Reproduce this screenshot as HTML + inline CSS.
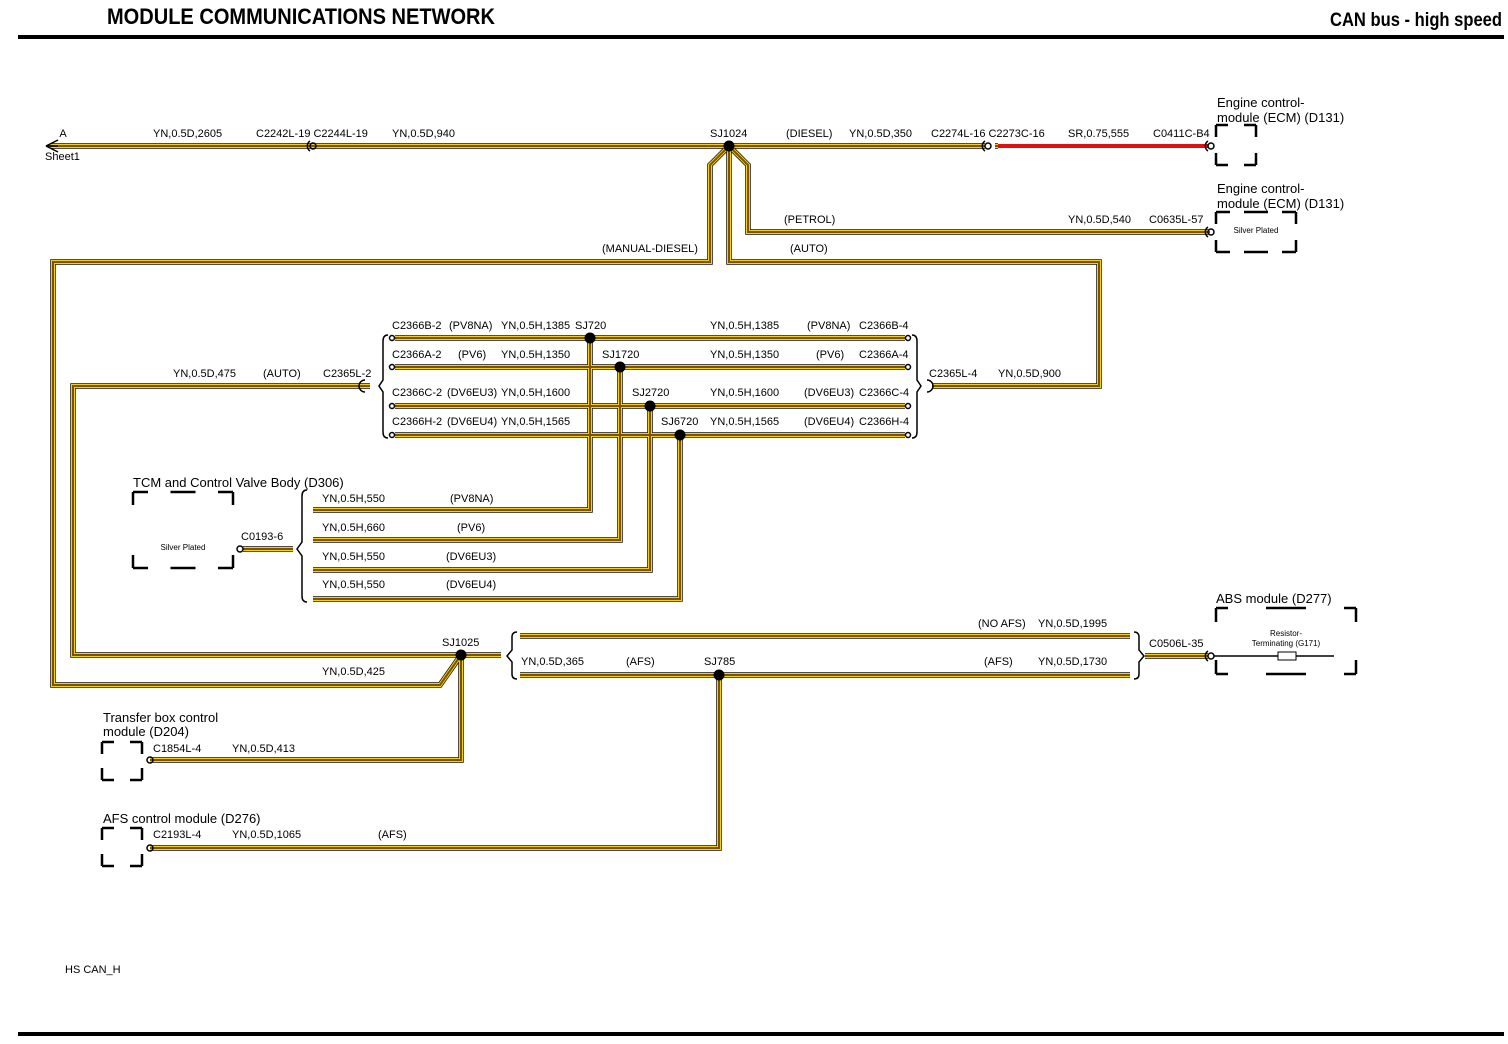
<!DOCTYPE html>
<html><head><meta charset="utf-8"><style>
html,body{margin:0;padding:0;background:#fff}
svg{display:block}
text{font-family:"Liberation Sans",Arial,sans-serif;font-size:11px;fill:#000}
.h{font-family:"Liberation Sans Narrow","Liberation Sans",sans-serif;font-weight:bold;font-size:22px}
.big{font-size:13px}
.sm{font-size:8px}
</style></head><body>
<svg width="1508" height="1044" viewBox="0 0 1508 1044" xmlns="http://www.w3.org/2000/svg">
<text x="107" y="24" class="h" textLength="388" lengthAdjust="spacingAndGlyphs">MODULE COMMUNICATIONS NETWORK</text>
<text x="1502" y="26" class="h" text-anchor="end" style="font-size:19px" textLength="172" lengthAdjust="spacingAndGlyphs">CAN bus - high speed</text>
<rect x="18" y="35" width="1486" height="4" fill="#000"/>
<rect x="18" y="1032" width="1486" height="4" fill="#000"/>

<defs>
<g id="w" fill="none" stroke-linejoin="miter">
<path d="M50 146H985M995 146H998"/>
<path d="M729 146L748 165V232H1210"/>
<path d="M729 146V262H1099V386H932"/>
<path d="M729 146L710 165V262H53V685H440L461 655H501"/>
<path d="M370 386H73V655H461V760H150"/>
<path d="M395 338H905M395 367H905M395 406H905M395 435H905"/>
<path d="M590 338V510H313M620 367V540H313M650 406V570H313M680 435V599H313"/>
<path d="M243 549H293"/>
<path d="M520 636H1130M520 675H1130M1145 656H1208"/>
<path d="M719 675V848H150"/>
</g>
</defs>
<use href="#w" stroke="#1a1200" stroke-width="5.5"/>
<use href="#w" stroke="#f5d400" stroke-width="4"/>
<use href="#w" stroke="#7a5200" stroke-width="2"/>
<path d="M998 146H1208" stroke="#e01010" stroke-width="4"/>

<!-- splices -->
<g fill="#000">
<circle cx="729" cy="146" r="5.5"/><circle cx="590" cy="338" r="5.5"/><circle cx="620" cy="367" r="5.5"/>
<circle cx="650" cy="406" r="5.5"/><circle cx="680" cy="435" r="5.5"/><circle cx="461" cy="655" r="5.5"/><circle cx="719" cy="675" r="5.5"/>
</g>

<!-- connectors -->
<g fill="none" stroke="#000" stroke-width="1.5">
<path d="M58 146H46L58 140M46 146L58 152"/>
<circle cx="313" cy="146" r="3"/><path d="M310 141A6 6 0 0 0 310 151"/>
<circle cx="988" cy="146" r="3"/><path d="M985 141A6 6 0 0 0 985 151"/>
<circle cx="1211" cy="146" r="3"/><path d="M1208 141A6 6 0 0 0 1208 151"/>
<circle cx="1211" cy="232" r="3"/><path d="M1208 227A6 6 0 0 0 1208 237"/>
<circle cx="1211" cy="656" r="3"/><path d="M1208 651A6 6 0 0 0 1208 661"/>
<circle cx="240" cy="549" r="3"/>
<circle cx="150" cy="760" r="3"/><circle cx="150" cy="848" r="3"/>
<path d="M365 380A6 6 0 0 0 365 392"/>
<path d="M927 380A6 6 0 0 1 927 392"/>
<circle cx="392" cy="338" r="2.5"/><circle cx="392" cy="367" r="2.5"/><circle cx="392" cy="406" r="2.5"/><circle cx="392" cy="435" r="2.5"/>
<circle cx="908" cy="338" r="2.5"/><circle cx="908" cy="367" r="2.5"/><circle cx="908" cy="406" r="2.5"/><circle cx="908" cy="435" r="2.5"/>
<!-- braces -->
<path d="M388 335Q383 335 383 341V380L379 386L383 392V432Q383 438 388 438"/>
<path d="M912 335Q917 335 917 341V380L921 386L917 392V432Q917 438 912 438"/>
<path d="M307 490Q302 490 302 496V542L297 549L302 556V596Q302 602 307 602"/>
<path d="M517 632Q512 632 512 637V650L507 656L512 662V674Q512 679 517 679"/>
<path d="M1134 632Q1139 632 1139 637V650L1144 656L1139 662V674Q1139 679 1134 679"/>
<!-- ABS internal -->
<path d="M1214 656H1278M1296 656H1334"/>
</g>
<rect x="1278" y="652" width="18" height="8" fill="#fff" stroke="#000"/>

<!-- dashed boxes -->
<g fill="none" stroke="#000" stroke-width="2.5">
<path d="M1216 125H1256M1216 165H1256" stroke-dasharray="12 16 12 100"/>
<path d="M1216 125V165M1256 125V165" stroke-dasharray="12 16 12 100"/>
<path d="M1216 212H1296M1216 252H1296" stroke-dasharray="14 14 24 14 14 100"/>
<path d="M1216 212V252M1296 212V252" stroke-dasharray="12 16 12 100"/>
<path d="M133 492H233M133 568H233" stroke-dasharray="15 22.5 25 22.5 15 200"/>
<path d="M133 492V568M233 492V568" stroke-dasharray="13 50 13 200"/>
<path d="M102 742H142M102 780H142M102 828H142M102 866H142" stroke-dasharray="12 16 12 100"/>
<path d="M102 742V780M142 742V780M102 828V866M142 828V866" stroke-dasharray="12 14 12 100"/>
<path d="M1216 608H1356M1216 674H1356" stroke-dasharray="12 38 40 38 12 200"/>
<path d="M1216 608V674M1356 608V674" stroke-dasharray="14 38 14 200"/>
</g>

<text x="63" y="137" text-anchor="middle">A</text>
<text x="45" y="160">Sheet1</text>
<text x="153" y="137">YN,0.5D,2605</text>
<text x="256" y="137">C2242L-19 C2244L-19</text>
<text x="392" y="137">YN,0.5D,940</text>
<text x="710" y="137">SJ1024</text>
<text x="786" y="137">(DIESEL)</text>
<text x="849" y="137">YN,0.5D,350</text>
<text x="931" y="137">C2274L-16 C2273C-16</text>
<text x="1068" y="137">SR,0.75,555</text>
<text x="1153" y="137">C0411C-B4</text>
<text x="1217" y="107" class="big">Engine control-</text>
<text x="1217" y="122" class="big">module (ECM) (D131)</text>
<text x="1217" y="193" class="big">Engine control-</text>
<text x="1217" y="208" class="big">module (ECM) (D131)</text>
<text x="1256" y="233" class="sm" text-anchor="middle">Silver Plated</text>
<text x="784" y="223">(PETROL)</text>
<text x="1068" y="223">YN,0.5D,540</text>
<text x="1149" y="223">C0635L-57</text>
<text x="602" y="252">(MANUAL-DIESEL)</text>
<text x="790" y="252">(AUTO)</text>
<text x="173" y="377">YN,0.5D,475</text>
<text x="263" y="377">(AUTO)</text>
<text x="323" y="377">C2365L-2</text>
<text x="929" y="377">C2365L-4</text>
<text x="998" y="377">YN,0.5D,900</text>

<text x="392" y="329">C2366B-2</text><text x="449" y="329">(PV8NA)</text><text x="501" y="329">YN,0.5H,1385</text><text x="575" y="329">SJ720</text>
<text x="710" y="329">YN,0.5H,1385</text><text x="807" y="329">(PV8NA)</text><text x="859" y="329">C2366B-4</text>
<text x="392" y="358">C2366A-2</text><text x="458" y="358">(PV6)</text><text x="501" y="358">YN,0.5H,1350</text><text x="602" y="358">SJ1720</text>
<text x="710" y="358">YN,0.5H,1350</text><text x="816" y="358">(PV6)</text><text x="859" y="358">C2366A-4</text>
<text x="392" y="396">C2366C-2</text><text x="447" y="396">(DV6EU3)</text><text x="501" y="396">YN,0.5H,1600</text><text x="632" y="396">SJ2720</text>
<text x="710" y="396">YN,0.5H,1600</text><text x="804" y="396">(DV6EU3)</text><text x="859" y="396">C2366C-4</text>
<text x="392" y="425">C2366H-2</text><text x="447" y="425">(DV6EU4)</text><text x="501" y="425">YN,0.5H,1565</text><text x="661" y="425">SJ6720</text>
<text x="710" y="425">YN,0.5H,1565</text><text x="804" y="425">(DV6EU4)</text><text x="859" y="425">C2366H-4</text>

<text x="133" y="487" class="big">TCM and Control Valve Body (D306)</text>
<text x="183" y="550" class="sm" text-anchor="middle">Silver Plated</text>
<text x="241" y="540">C0193-6</text>
<text x="322" y="502">YN,0.5H,550</text><text x="450" y="502">(PV8NA)</text>
<text x="322" y="531">YN,0.5H,660</text><text x="457" y="531">(PV6)</text>
<text x="322" y="560">YN,0.5H,550</text><text x="446" y="560">(DV6EU3)</text>
<text x="322" y="588">YN,0.5H,550</text><text x="446" y="588">(DV6EU4)</text>

<text x="442" y="646">SJ1025</text>
<text x="322" y="675">YN,0.5D,425</text>
<text x="978" y="627">(NO AFS)</text><text x="1038" y="627">YN,0.5D,1995</text>
<text x="521" y="665">YN,0.5D,365</text><text x="626" y="665">(AFS)</text><text x="704" y="665">SJ785</text>
<text x="984" y="665">(AFS)</text><text x="1038" y="665">YN,0.5D,1730</text>
<text x="1149" y="647">C0506L-35</text>
<text x="1216" y="603" class="big">ABS module (D277)</text>
<text x="1286" y="636" class="sm" text-anchor="middle">Resistor-</text>
<text x="1286" y="646" class="sm" text-anchor="middle">Terminating (G171)</text>

<text x="103" y="722" class="big">Transfer box control</text>
<text x="103" y="736" class="big">module (D204)</text>
<text x="153" y="752">C1854L-4</text><text x="232" y="752">YN,0.5D,413</text>
<text x="103" y="823" class="big">AFS control module (D276)</text>
<text x="153" y="838">C2193L-4</text><text x="232" y="838">YN,0.5D,1065</text><text x="378" y="838">(AFS)</text>
<text x="65" y="973">HS CAN_H</text>
</svg>
</body></html>
